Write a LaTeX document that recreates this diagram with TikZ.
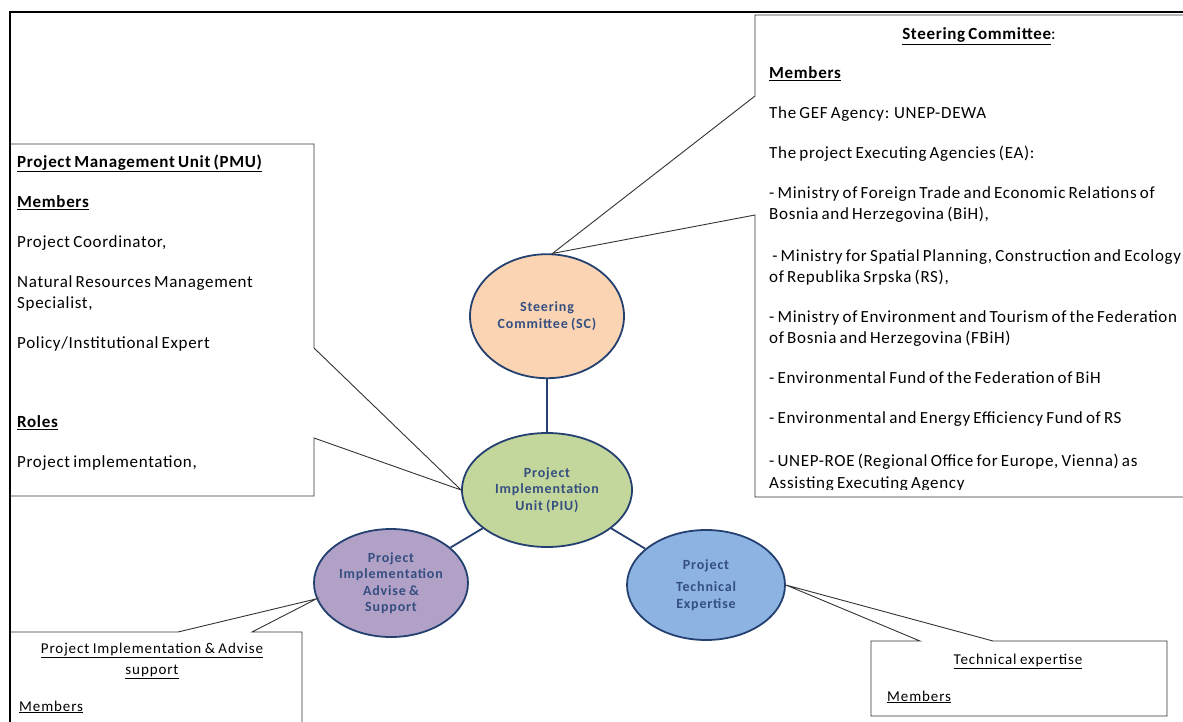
\documentclass[tikz,border=0pt]{standalone}
\usepackage{fontspec}
\setmainfont{Carlito}
\newfontfamily\bodyfont[LetterSpace=4, WordSpace=0.7]{Carlito}
\newfontfamily\unitfont[LetterSpace=6]{Carlito}
\newfontfamily\smallfont[LetterSpace=6, WordSpace=0.8]{Carlito}
\usetikzlibrary{positioning,shapes.geometric}

\definecolor{scfill}{RGB}{251,212,180}
\definecolor{piufill}{RGB}{195,214,155}
\definecolor{advfill}{RGB}{178,161,199}
\definecolor{techfill}{RGB}{141,179,226}
\definecolor{ringblue}{RGB}{36,64,112}
\definecolor{labelblue}{RGB}{52,78,128}

\begin{document}
\begin{tikzpicture}[
            x=1pt, y=-1pt,
            unit/.style={ellipse, draw=ringblue, line width=1.8pt, align=center, inner sep=0pt,
                         font=\unitfont\fontsize{14}{16.5}\selectfont\bfseries, text=labelblue},
            link/.style={draw=ringblue, line width=1.8pt},
            callout/.style={draw=black!80, line width=0.9pt},
            note/.style={align=left, anchor=north west, inner sep=0pt, font=\bodyfont\fontsize{17}{21}\selectfont},
            small note/.style={align=center, anchor=north, inner sep=0pt, font=\smallfont\fontsize{15}{21}\selectfont}
        ]
        \useasboundingbox (0,0) rectangle (1183,722);
        \clip (0,0) rectangle (1183,722);

        % outer frame
        \draw[line width=1.6pt] (10,722) -- (10,12) -- (1183,12);

        % units
        \node[unit, fill=piufill, minimum width=170pt, minimum height=114pt] (piu) at (547,490) {Project\\Implementation\\Unit (PIU)};
        \node[unit, fill=scfill, minimum width=154pt, minimum height=124pt, above=53pt of piu] (sc) {Steering\\Committee (SC)};
        \node[unit, fill=advfill, minimum width=154pt, minimum height=108pt] (adv) at (391,583) {Project\\Implementation\\Advise \&\\Support};
        \node[unit, fill=techfill, minimum width=158pt, minimum height=110pt] (tech) at (706,585) {Project\\[6pt]Technical\\Expertise};

        \draw[link] (sc) -- (piu);
        \draw[link] (piu) -- (adv);
        \draw[link] (piu) -- (tech);

        % callouts
        \draw[callout] (10,144) -- (314,144) -- (314,348) -- (piu.west) -- (314,438) -- (314,496) -- (10,496);
        \draw[callout] (1200,15) -- (755,15) -- (755,96) -- (sc.85) -- (755,215) -- (755,497) -- (1200,497);
        \draw[callout] (10,632) -- (178,632) -- (adv.192) -- (252,632) -- (302,632) -- (302,740);
        \draw[callout] (871,641) -- (920,641) -- (tech.east) -- (993,641) -- (1167,641) -- (1167,716) -- (871,716) -- cycle;

        % Steering Committee text
        \node[note, anchor=base] (sctitle) at (979,40) {\textbf{\underline{Steering Committee}}:};
        \begin{scope}
            \clip (755,15) rectangle (1183,489);
            \node[note] (scnote) at (769,63.3) {\strut\textbf{\underline{Members}}\\[19pt]
                The GEF Agency: UNEP-DEWA\\[19pt]
                The project Executing Agencies (EA):\\[19pt]
                - Ministry of Foreign Trade and Economic Relations of\\
                Bosnia and Herzegovina (BiH),\\[21pt]
                \ - Ministry for Spatial Planning, Construction and Ecology\\
                of Republika Srpska (RS),\\[19pt]
                - Ministry of Environment and Tourism of the Federation\\
                of Bosnia and Herzegovina (FBiH)\\[19pt]
                - Environmental Fund of the Federation of BiH\\[19pt]
                - Environmental and Energy Efficiency Fund of RS\\[22pt]
                - UNEP-ROE (Regional Office for Europe, Vienna) as\\[1pt]
                Assisting Executing Agency};
        \end{scope}

        % PMU text
        \node[note] (pmunote) at (17,152.5) {\strut\textbf{\underline{Project Management Unit (PMU)}}\\[19pt]
            \textbf{\underline{Members}}\\[19pt]
            Project Coordinator,\\[19pt]
            Natural Resources Management\\
            Specialist,\\[19pt]
            Policy/Institutional Expert\\[58pt]
            \textbf{\underline{Roles}}\\[19pt]
            Project implementation,};

        % advise and technical text
        \node[small note] (advtitle) at (152,638.3) {\strut\underline{Project Implementation \& Advise}\\\underline{support}};
        \node[small note, anchor=base west] (advnote) at (19,711) {\underline{Members}};
        \node[small note, anchor=base] (techtitle) at (1018,664) {\underline{Technical expertise}};
        \node[small note, anchor=base west] (technote) at (887,701) {\underline{Members}};
\end{tikzpicture}
\end{document}
